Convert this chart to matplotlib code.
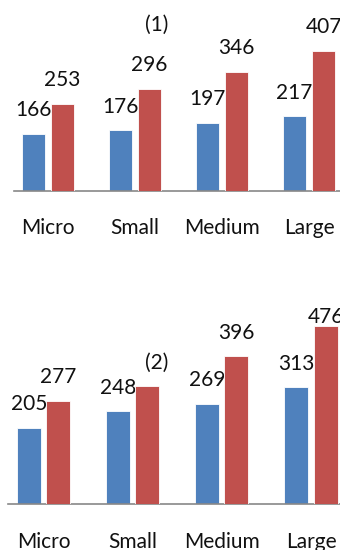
import matplotlib.pyplot as plt

categories = ['Micro', 'Small', 'Medium', 'Large']

# panel (1)
blue_1 = [166, 176, 197, 217]
red_1 = [253, 296, 346, 407]

# panel (2); the Small/red label is replaced by the panel tag
blue_2 = [205, 248, 269, 313]
red_2 = [277, 316, 396, 476]
red_2_labels = ['277', '', '396', '476']

BLUE = '#4F81BD'
RED = '#C0504D'

plt.rcParams['font.family'] = ['Lato', 'DejaVu Sans']

W, H = 340, 550
fig = plt.figure(figsize=(W / 100, H / 100), dpi=100)


def px_axes(left, right, top, bottom):
    # axes box given in pixels from the top-left corner
    return fig.add_axes([left / W, (H - bottom) / H, (right - left) / W, (bottom - top) / H])


def draw_panel(ax, blue, red, xlim, ymax, width, shift, cap, red_labels=None):
    x = range(len(categories))
    ax.set_xlim(*xlim)
    ax.set_ylim(0, ymax)
    for s in ['top', 'right', 'left']:
        ax.spines[s].set_visible(False)
    ax.spines['bottom'].set_color('#888888')
    ax.spines['bottom'].set_linewidth(1.2)
    ax.set_yticks([])
    ax.set_xticks(list(x))
    ax.set_xticklabels(categories, fontsize=15, color='#111111')
    ax.tick_params(axis='x', length=0, pad=27)
    for t in ax.get_xticklabels():
        t.set_va('center')

    if red_labels is None:
        red_labels = [str(v) for v in red]
    blue_labels = [str(v) for v in blue]
    for vals, labels, color, dx, z in [(blue, blue_labels, BLUE, -shift, 2),
                                       (red, red_labels, RED, shift, 4)]:
        xs = [i + dx for i in x]
        ax.bar(xs, vals, width=width, color=color, edgecolor='white',
               linewidth=0.6, zorder=z)
        for xi, v, lab in zip(xs, vals, labels):
            ypos = min(v, cap)
            ax.annotate(lab, (xi, ypos), xytext=(0, 17), textcoords='offset points',
                        ha='center', va='center', fontsize=15, color='#111111',
                        zorder=z + 1, annotation_clip=False)


ax1 = px_axes(14, 340, 0, 191)
draw_panel(ax1, blue_1, red_1, (-0.39, 3.356), 191 / 0.345, 0.264, 0.1667, 1000)
fig.text(157 / W, 1 - 25 / H, '(1)', ha='center', va='center', fontsize=15, color='#111111')

ax2 = px_axes(8, 340, 310, 504)
draw_panel(ax2, blue_2, red_2, (-0.40, 3.326), 194 / 0.373, 0.27, 0.164, 438,
           red_labels=red_2_labels)
fig.text(157 / W, 1 - 363 / H, '(2)', ha='center', va='center', fontsize=15, color='#111111')

fig.savefig('out.png', dpi=100)
